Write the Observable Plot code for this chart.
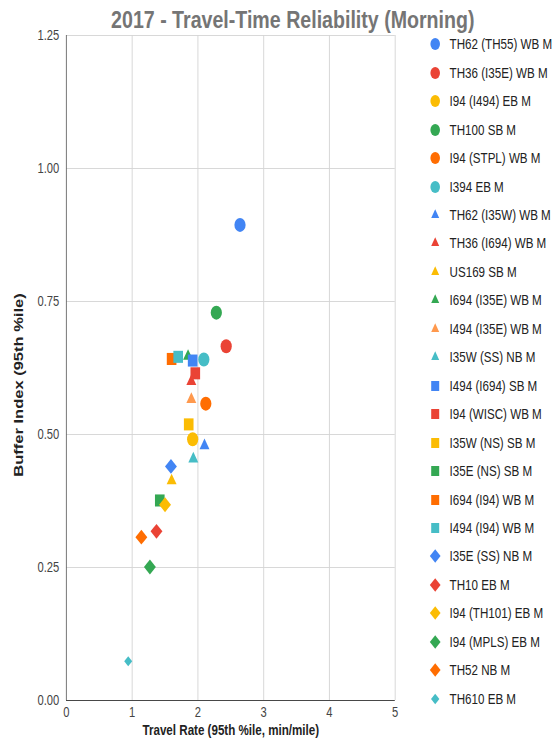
<!DOCTYPE html>
<html>
<head>
<meta charset="utf-8">
<script src="https://cdn.jsdelivr.net/npm/d3@7"></script>
<script src="https://cdn.jsdelivr.net/npm/@observablehq/plot@0.6"></script>
<style>
  html, body { margin: 0; padding: 0; overflow: hidden; background: #fff; }
  #chart {
    position: relative; width: 696px; height: 751px;
    transform: scaleX(0.8); transform-origin: 0 0;
    font-family: "Liberation Sans", Arial, sans-serif;
  }
  #chart > svg { position: absolute; left: 0; top: 0; }
  #title {
    position: absolute; left: 0; top: 5px; width: 732px; text-align: center;
    font-size: 24.5px; font-weight: bold; color: #757575; line-height: 30px; white-space: nowrap;
  }
  .row {
    position: absolute; left: 532px; height: 20px; display: flex; align-items: center;
    font-size: 14.5px; color: #222; white-space: nowrap;
  }
  .row svg { width: 24px; height: 20px; margin-right: 6px; flex: none; }
</style>
</head>
<body>
<div id="chart"></div>
<script>
// Routes (morning peak) in legend order
const seriesNames = [
  "TH62 (TH55) WB M", "TH36 (I35E) WB M", "I94 (I494) EB M", "TH100 SB M",
  "I94 (STPL) WB M", "I394 EB M", "TH62 (I35W) WB M", "TH36 (I694) WB M",
  "US169 SB M", "I694 (I35E) WB M", "I494 (I35E) WB M", "I35W (SS) NB M",
  "I494 (I694) SB M", "I94 (WISC) WB M", "I35W (NS) SB M", "I35E (NS) SB M",
  "I694 (I94) WB M", "I494 (I94) WB M", "I35E (SS) NB M", "TH10 EB M",
  "I94 (TH101) EB M", "I94 (MPLS) EB M", "TH52 NB M", "TH610 EB M"
];
// 95th percentile travel rate, min/mile
const travelRate = [
  2.64, 2.43, 1.92, 2.28, 2.12, 2.09, 2.10, 1.90,
  1.60, 1.85, 1.90, 1.93, 1.92, 1.96, 1.86, 1.42,
  1.60, 1.70, 1.59, 1.37, 1.50, 1.27, 1.14, 0.94
];
// 95th percentile buffer index
const bufferIndex = [
  0.894, 0.666, 0.491, 0.729, 0.558, 0.641, 0.479, 0.600,
  0.413, 0.647, 0.566, 0.454, 0.639, 0.615, 0.519, 0.376,
  0.642, 0.646, 0.440, 0.318, 0.368, 0.251, 0.307, 0.074
];
const xTicks = [0, 1, 2, 3, 4, 5];
const yTicks = [0, 0.25, 0.5, 0.75, 1, 1.25];
const chartTitle = "2017 - Travel-Time Reliability (Morning)";
const xTitle = "Travel Rate (95th %ile, min/mile)";
const yTitle = "Buffer Index (95th %ile)";

// Marker styling: a colour cycle within each symbol group
const blue = "#4285F4", red = "#EA4335", yellow = "#FBBC04", green = "#34A853",
      orange = "#FF6D01", teal = "#46BDC6", lightOrange = "#FF994D";
const seriesColor = [
  blue, red, yellow, green, orange, teal,
  blue, red, yellow, green, lightOrange, teal,
  blue, red, yellow, green, orange, teal,
  blue, red, yellow, green, orange, teal
];
const groupSymbol = ["circle", "triangle", "square", "diamond2"];
const groupRadius = [7, 4.6, 6.8, 6.7];
const symbolOf = i => groupSymbol[Math.floor(i / 6)];
const radiusOf = i => (i === 23 ? 4.5 : groupRadius[Math.floor(i / 6)]);

const fontFamily = '"Liberation Sans", Arial, sans-serif';

const chart = Plot.plot({
  width: 696,
  height: 751,
  marginTop: 35,
  marginBottom: 51,
  marginLeft: 82.5,
  marginRight: 202.5,
  style: { fontFamily, fontSize: "14px", color: "#444", background: "transparent", overflow: "visible" },
  x: { domain: [0, 5], ticks: xTicks, tickSize: 0, tickPadding: 7, tickFormat: d3.format("d"), label: null },
  y: { domain: [0, 1.25], ticks: yTicks, tickSize: 0, tickPadding: 9, tickFormat: d3.format(".2f"), label: null },
  marks: [
    Plot.ruleX(xTicks.slice(1), { stroke: "#d4d4d4" }),
    Plot.ruleY(yTicks.slice(1), { stroke: "#d4d4d4" }),
    Plot.ruleX([0], { stroke: "#666" }),
    Plot.ruleY([0], { stroke: "#333" }),
    ...seriesNames.map((name, i) => Plot.dot([i], {
      x: j => travelRate[j],
      y: j => bufferIndex[j],
      symbol: symbolOf(i),
      r: radiusOf(i),
      fill: seriesColor[i],
      title: () => name
    })),
    Plot.text([xTitle], {
      text: d => d, frameAnchor: "bottom", lineAnchor: "middle", dy: 30,
      fontSize: 14.5, fontWeight: "bold", fill: "#222"
    }),
    Plot.text([yTitle], {
      text: d => d, frameAnchor: "left", textAnchor: "middle", lineAnchor: "middle",
      rotate: -90, dx: -60, dy: 17,
      fontSize: 16.5, fontWeight: "bold", fill: "#222"
    })
  ]
});

const root = document.getElementById("chart");
root.appendChild(chart);

const title = document.createElement("div");
title.id = "title";
title.textContent = chartTitle;
root.appendChild(title);

// Legend: one row per route, symbol + name
const legendSymbol = {
  circle: [d3.symbolCircle, Math.PI * 36],
  triangle: [d3.symbolTriangle, 43],
  square: [d3.symbolSquare, 100],
  diamond2: [d3.symbolDiamond2, 114]
};
seriesNames.forEach((name, i) => {
  const row = document.createElement("div");
  row.className = "row";
  row.style.top = (44.3 + i * 28.45 - 10) + "px";
  const [type, size] = legendSymbol[symbolOf(i)];
  const svg = d3.create("svg").attr("viewBox", "-12 -10 24 20");
  svg.append("path").attr("d", d3.symbol(type, i === 23 ? 70 : size)()).attr("fill", seriesColor[i]);
  row.appendChild(svg.node());
  const label = document.createElement("span");
  label.textContent = name;
  row.appendChild(label);
  root.appendChild(row);
});
</script>
</body>
</html>
